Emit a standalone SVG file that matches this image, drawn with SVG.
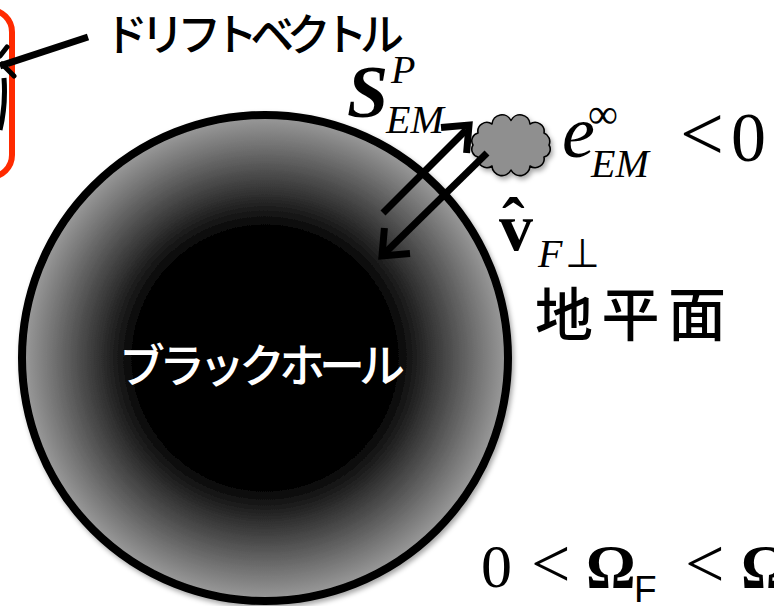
<svg xmlns="http://www.w3.org/2000/svg" width="774" height="606" viewBox="0 0 774 606">
  <defs>
    <radialGradient id="holeFill" cx="0.5" cy="0.5" r="0.5">
      <stop offset="0" stop-color="#000"/>
      <stop offset="0.53" stop-color="#000"/>
      <stop offset="1" stop-color="#9c9c9c"/>
    </radialGradient>
    <filter id="softShadow" x="-10%" y="-10%" width="125%" height="125%">
      <feDropShadow dx="2" dy="3" stdDeviation="2.5" flood-color="#000" flood-opacity="0.35"/>
    </filter>
    <style>
      .jp { font-family: "Noto Sans CJK JP", "Noto Sans", sans-serif; font-weight: 500; }
      .m { font-family: "Liberation Serif", "Times New Roman", serif; fill: #000; }
      .it { font-style: italic; }
      .bd { font-weight: bold; }
      .sans { font-family: "Liberation Sans", Arial, sans-serif; }
      .line { fill: none; stroke: #000; stroke-width: 7; }
      .head { fill: none; stroke: #000; stroke-width: 7; stroke-linejoin: miter; stroke-miterlimit: 10; }
    </style>
  </defs>

  <rect width="774" height="606" fill="#fff"/>

  <!-- left panel: frame around the drift vector -->
  <g id="drift-frame">
    <rect x="-40" y="10" width="52" height="167" rx="22" ry="22" fill="none" stroke="#ff2a00" stroke-width="6"/>
    <path d="M0,56 L7,47" fill="none" stroke="#000" stroke-width="5" stroke-linecap="round"/>
    <path d="M2,64 L14,76" fill="none" stroke="#000" stroke-width="5" stroke-linecap="round"/>
    <path d="M4,78 Q6,105 0,130" fill="none" stroke="#000" stroke-width="5"/>
  </g>

  <g id="drift-label">
    <text class="jp" x="104" y="51" font-size="44" textLength="300" lengthAdjust="spacing" fill="#000">ドリフトベクトル</text>
  </g>

  <!-- black hole -->
  <g id="blackhole">
    <circle cx="265" cy="358" r="243" fill="url(#holeFill)" stroke="#000" stroke-width="8" filter="url(#softShadow)"/>
    <text class="jp" x="119" y="382" font-size="46" textLength="286" lengthAdjust="spacing" fill="#fff">ブラックホール</text>
  </g>

  <g id="horizon-label">
    <text class="jp" x="535" y="336" font-size="58" letter-spacing="8.5" fill="#000">地平面</text>
  </g>

  <!-- plasma cloud outside the horizon -->
  <g id="cloud">
    <path filter="url(#softShadow)" fill="#8f8f8f" stroke="#000" stroke-width="1.6" stroke-linejoin="round"
      d="M549,145 A9,9 0 0 0 544,133 A9,9 0 0 0 530,124 A10,10 0 0 0 511,120.5 A10,10 0 0 0 492,124 A9,9 0 0 0 478,133 A8,8 0 0 0 473,145 A8,8 0 0 0 478,157 A9,9 0 0 0 492,166 A10,10 0 0 0 511,170 A10,10 0 0 0 530,166 A9,9 0 0 0 544,157 A8,8 0 0 0 549,145 Z"/>
  </g>

  <!-- connectors -->
  <g id="connectors">
    <path class="line" d="M88,37 L0,66"/>
    <!-- Poynting flux, outward -->
    <path class="line" d="M383,213 L466,130"/>
    <polyline class="head" points="441,127.4 469,125 466.6,153"/>
    <!-- field line velocity, inward -->
    <path class="line" d="M487,153 L385,253"/>
    <polyline class="head" points="410,253.6 382,256 384.4,228"/>
  </g>

  <!-- formulas -->
  <g id="poynting-label">
    <text class="m it bd" x="347" y="117" font-size="74">S</text>
    <text class="m it" x="391" y="83" font-size="40">P</text>
    <text class="m it" x="386" y="133" font-size="40">EM</text>
  </g>

  <g id="energy-label">
    <text class="m it" x="562" y="157" font-size="74">e</text>
    <text class="m" x="588" y="128" font-size="42">∞</text>
    <text class="m it" x="591" y="177" font-size="40">EM</text>
    <text class="m" x="680" y="160" font-size="78">&lt;</text>
    <text class="m" x="731" y="161" font-size="70">0</text>
  </g>

  <g id="velocity-label">
    <text class="m bd" x="502" y="245" font-size="68">ˆ</text>
    <text class="m bd" x="499" y="250" font-size="68">v</text>
    <text class="m it" x="538" y="267" font-size="40">F</text>
    <text class="m" x="565" y="267" font-size="40">⊥</text>
  </g>

  <g id="omega-label">
    <text class="m" x="481" y="587" font-size="62">0</text>
    <text class="m" x="531" y="587" font-size="70">&lt;</text>
    <text class="m bd" x="586" y="587" font-size="62">Ω</text>
    <text class="sans" x="634" y="602" font-size="37" fill="#000">F</text>
    <text class="m" x="685" y="587" font-size="70">&lt;</text>
    <text class="m bd" x="741" y="587" font-size="62">Ω</text>
  </g>
</svg>
